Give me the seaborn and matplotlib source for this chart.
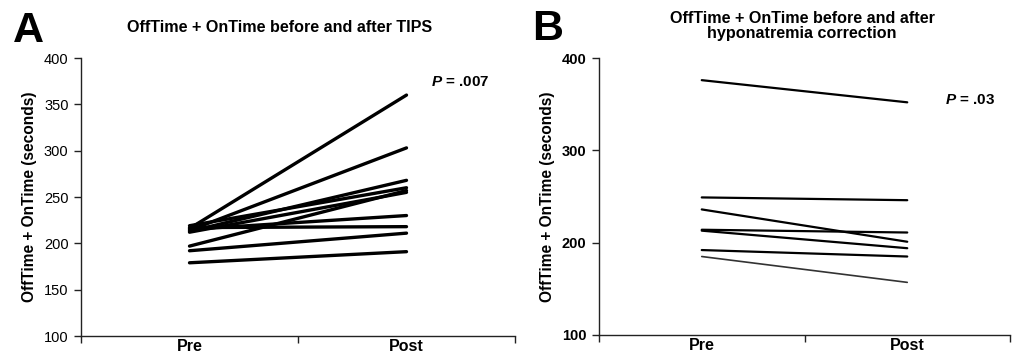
import matplotlib
matplotlib.use("Agg")
import matplotlib.pyplot as plt
import seaborn as sns
import pandas as pd

# ---- data ----
categories = ["Pre", "Post"]
tips_pre = [216, 214, 213, 219, 212, 215, 217, 197, 192, 179]
tips_post = [360, 303, 268, 260, 255, 230, 218, 257, 211, 191]
hypo_pre = [376, 249, 236, 214, 213, 192, 185]
hypo_post = [352, 246, 201, 211, 194, 185, 157]
yticks_a = [100, 150, 200, 250, 300, 350, 400]
yticks_b = [100, 200, 300, 400]
title_a = "OffTime + OnTime before and after TIPS"
title_b = "OffTime + OnTime before and after\nhyponatremia correction"
ylabel = "OffTime + OnTime (seconds)"
p_a = ".007"
p_b = ".03"


def long_df(pre, post):
    rows = []
    for i, (a, b) in enumerate(zip(pre, post)):
        rows.append({"subject": i, "x": 0, "value": a})
        rows.append({"subject": i, "x": 1, "value": b})
    return pd.DataFrame(rows)


sns.set_style("white")
plt.rcParams["font.family"] = ["Liberation Sans", "DejaVu Sans"]
plt.rcParams["text.color"] = "black"
plt.rcParams["axes.labelcolor"] = "black"
plt.rcParams["xtick.color"] = "black"
plt.rcParams["ytick.color"] = "black"
plt.rcParams["mathtext.fontset"] = "custom"
plt.rcParams["mathtext.it"] = "Liberation Sans:bold:italic"
plt.rcParams["mathtext.rm"] = "Liberation Sans:bold"

fig = plt.figure(figsize=(10.2, 3.64), dpi=100)
ax_a = fig.add_axes([81 / 1020, 1 - 336 / 364, (515 - 81) / 1020, (336 - 58) / 364])
ax_b = fig.add_axes([599 / 1020, 1 - 335 / 364, (1010 - 599) / 1020, (335 - 58) / 364])

df_a = long_df(tips_pre, tips_post)
sns.lineplot(data=df_a, x="x", y="value", units="subject", estimator=None,
             color="black", lw=2.4, ax=ax_a, legend=False)

df_b = long_df(hypo_pre[:-1], hypo_post[:-1])
sns.lineplot(data=df_b, x="x", y="value", units="subject", estimator=None,
             color="black", lw=1.6, ax=ax_b, legend=False)
df_b2 = long_df(hypo_pre[-1:], hypo_post[-1:])
sns.lineplot(data=df_b2, x="x", y="value", units="subject", estimator=None,
             color="#333333", lw=1.2, ax=ax_b, legend=False)


def style_axes(ax, yticks, bold_y):
    ax.set_xlim(-0.5, 1.5)
    ax.set_ylim(100, 400)
    sns.despine(ax=ax)
    for s in ("left", "bottom"):
        ax.spines[s].set_color("#222222")
        ax.spines[s].set_linewidth(1.0)
    ax.set_yticks(yticks)
    ax.set_yticklabels([str(v) for v in yticks],
                       fontsize=10.5, fontweight="bold" if bold_y else "normal")
    ax.tick_params(axis="y", direction="out", length=5, width=1, color="#222222",
                   left=True, pad=4)
    ax.set_xticks([-0.5, 0.5, 1.5])
    ax.set_xticklabels([])
    ax.set_xticks([0, 1], minor=True)
    ax.set_xticklabels(categories, minor=True, fontsize=11.5, fontweight="bold")
    ax.tick_params(axis="x", which="major", direction="out", length=5, width=1,
                   color="#222222", bottom=True)
    ax.tick_params(axis="x", which="minor", length=0, pad=2)
    ax.set_xlabel("")
    ax.set_ylabel(ylabel, fontsize=11.2, fontweight="bold", labelpad=5)
    ax.grid(False)


style_axes(ax_a, yticks_a, False)
style_axes(ax_b, yticks_b, True)

fig.text(280 / 1020, 1 - 27 / 364, title_a, ha="center", va="center",
         fontsize=11.6, fontweight="bold")
fig.text(802 / 1020, 1 - 26 / 364, title_b, ha="center", va="center",
         fontsize=11.6, fontweight="bold", linespacing=1.0)
fig.text(13 / 1020, 1 - 42 / 364, "A", fontsize=31, fontweight="bold", ha="left",
         va="baseline")
fig.text(532 / 1020, 1 - 40 / 364, "B", fontsize=31, fontweight="bold", ha="left",
         va="baseline")

ax_a.text(1.115, 374, r"$P$ = " + p_a, fontsize=11, fontweight="bold",
          ha="left", va="center")
ax_b.text(1.185, 354, r"$P$ = " + p_b, fontsize=11, fontweight="bold",
          ha="left", va="center")

fig.savefig("out.png", dpi=100)
